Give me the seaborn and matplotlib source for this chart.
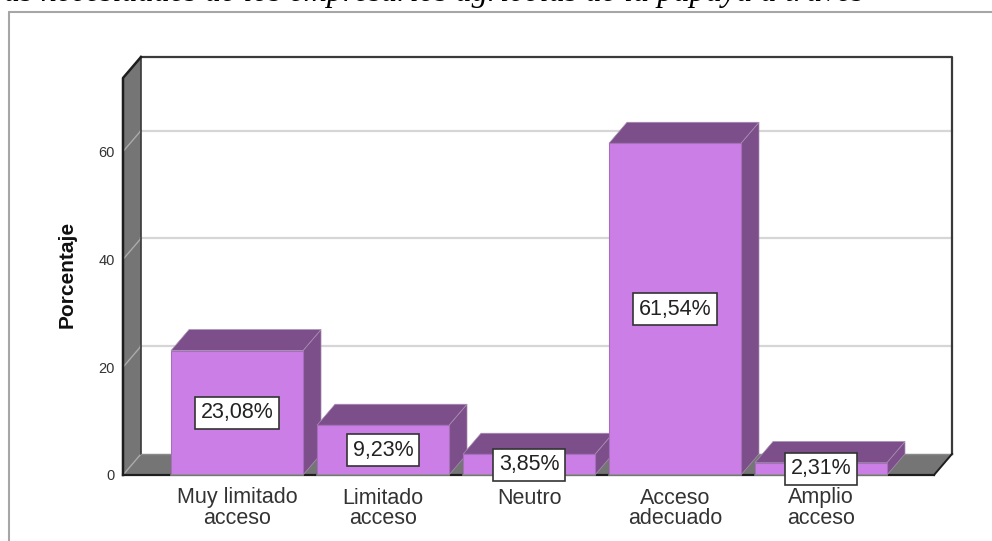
"""Bar chart with a fake 3D box, SPSS style: access to resources, percentages."""

import matplotlib

matplotlib.use("Agg")
import matplotlib.pyplot as plt
import pandas as pd
import seaborn as sns
from matplotlib.lines import Line2D

categories = ["Muy limitado\nacceso", "Limitado\nacceso", "Neutro",
              "Acceso\nadecuado", "Amplio\nacceso"]
percentages = [23.08, 9.23, 3.85, 61.54, 2.31]
bar_labels = ["23,08%", "9,23%", "3,85%", "61,54%", "2,31%"]
y_ticks = [0, 20, 40, 60]
caption = "as necesidades de los empresarios agrícolas de la papaya a través"

FRONT = "#CB7FE6"
SHADE = "#7C4F8A"
WALL = "#757575"
GRID = "#D6D6D6"
DARK = "#3A3A3A"

# box depth in data units
DEPTH_X = 0.1233
DEPTH_Y = 3.9
XLIM = (-0.781, 4.774)
YLIM = (0, 73.65)

sns.set_theme(style="white")
plt.rcParams["font.family"] = ["Liberation Sans", "DejaVu Sans"]

df = pd.DataFrame({"category": categories, "pct": percentages})

fig = plt.figure(figsize=(9.92, 5.41), dpi=100, facecolor="white")
ax = fig.add_axes([123 / 992, 66 / 541, 811 / 992, 397 / 541])
ax.patch.set_alpha(0)

sns.barplot(data=df, x="category", y="pct", color=FRONT, saturation=1,
            width=0.904, edgecolor="#A56FBB", linewidth=0.8, ax=ax, zorder=5)
ax.set_xlim(*XLIM)
ax.set_ylim(*YLIM)


def face(xs, ys, color, z, edge="none", lw=0.0):
    ax.fill(xs, ys, facecolor=color, edgecolor=edge, linewidth=lw, zorder=z, clip_on=False)


def edge(xs, ys, color=DARK, lw=1.5, z=1.2):
    ax.plot(xs, ys, color=color, lw=lw, zorder=z, clip_on=False, solid_capstyle="projecting")


x0, x1 = XLIM
y0, y1 = YLIM

# --- Walls and floor ---
face([x0, x0 + DEPTH_X, x0 + DEPTH_X, x0], [y0, y0 + DEPTH_Y, y1 + DEPTH_Y, y1], WALL, 0.5)
face([x0, x0 + DEPTH_X, x1 + DEPTH_X, x1], [y0, y0 + DEPTH_Y, y0 + DEPTH_Y, y0], WALL, 0.5)

for t in y_ticks[1:]:
    edge([x0 + DEPTH_X, x1 + DEPTH_X], [t + DEPTH_Y, t + DEPTH_Y], GRID, 1.6, 0.8)
for t in y_ticks:
    edge([x0, x0 + DEPTH_X], [t, t + DEPTH_Y], "#ABABAB", 1.0, 0.9)

edge([x0 + DEPTH_X, x1 + DEPTH_X, x1 + DEPTH_X], [y1 + DEPTH_Y, y1 + DEPTH_Y, DEPTH_Y], lw=1.6)
edge([x0 + DEPTH_X, x0 + DEPTH_X], [DEPTH_Y, y1 + DEPTH_Y], lw=1.2)
edge([x0 + DEPTH_X, x1 + DEPTH_X], [DEPTH_Y, DEPTH_Y], "#8A8A8A", 1.0)
edge([x1 + DEPTH_X, x1], [DEPTH_Y, y0], "#1E1E1E", 1.4)
edge([x0, x0, x0 + DEPTH_X], [y0, y1, y1 + DEPTH_Y], "#1E1E1E", 1.8)
edge([x0, x1], [y0, y0], "#1E1E1E", 1.6, 1.1)

# --- Side and top of every bar, painted left to right ---
for i, bar in enumerate(ax.containers[0]):
    left, right = bar.get_x(), bar.get_x() + bar.get_width()
    h = bar.get_height()
    z = 2 + i
    face([right, right + DEPTH_X, right + DEPTH_X, right],
         [0, DEPTH_Y, h + DEPTH_Y, h], SHADE, z, "#A98FB3", 0.5)
    face([left, left + DEPTH_X, right + DEPTH_X, right],
         [h, h + DEPTH_Y, h + DEPTH_Y, h], SHADE, z, "#A98FB3", 0.5)
    bar.set_zorder(z + 0.5)
    edge([left, right], [0, 0], "#8A8A8A", 1.2, z + 0.6)

labels = ax.bar_label(ax.containers[0], labels=bar_labels, label_type="center",
                      fontsize=15.5, color="#222222", zorder=20,
                      bbox=dict(boxstyle="square,pad=0.25", facecolor="white",
                                edgecolor="#333333", linewidth=1.2))

# --- Axes text ---
sns.despine(ax=ax, left=True, bottom=True)
ax.set_yticks(y_ticks)
ax.set_yticklabels([str(t) for t in y_ticks], fontsize=10.5, color="#333333")
ax.tick_params(axis="y", length=0, pad=5.8)
ax.tick_params(axis="x", length=0, pad=9, labelsize=15.5, labelcolor="#333333")
for lab in ax.get_xticklabels():
    lab.set_linespacing(0.95)
ax.set_xlabel("")
ax.set_ylabel("Porcentaje", fontsize=15, fontweight="bold", color="#111111", labelpad=15.5)
ax.yaxis.label.set_y(0.505)

# --- Cropped document around the chart ---
fig.add_artist(Line2D([9 / 992, 1], [1 - 12 / 541] * 2, color="#A6A6A6", lw=1.5))
fig.add_artist(Line2D([9 / 992] * 2, [1 - 12 / 541, 0], color="#A6A6A6", lw=1.5))
fig.text(4 / 992, 1 - 1 / 541, caption, family="Liberation Serif", style="italic",
         fontsize=23.2, color="black", ha="left", va="baseline")

fig.savefig("out.png", dpi=100)
